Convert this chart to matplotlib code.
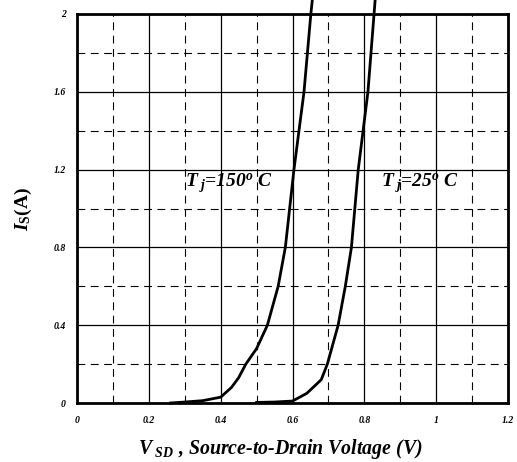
import matplotlib
matplotlib.use('Agg')
import matplotlib.pyplot as plt
from matplotlib.ticker import MultipleLocator

vsd_150 = [0.26, 0.30, 0.35, 0.40, 0.43, 0.45, 0.47, 0.50, 0.53, 0.56, 0.58, 0.604, 0.632, 0.651, 0.655]
is_150 = [0.0, 0.005, 0.012, 0.03, 0.08, 0.13, 0.20, 0.28, 0.40, 0.60, 0.80, 1.20, 1.60, 2.00, 2.07]
vsd_25 = [0.50, 0.55, 0.60, 0.64, 0.68, 0.697, 0.727, 0.747, 0.764, 0.783, 0.81, 0.827, 0.83]
is_25 = [0.003, 0.005, 0.01, 0.05, 0.12, 0.20, 0.40, 0.60, 0.80, 1.20, 1.60, 2.00, 2.07]

x_ticks = [0, 0.2, 0.4, 0.6, 0.8, 1, 1.2]
y_ticks = [0, 0.4, 0.8, 1.2, 1.6, 2]

plt.rcParams['font.family'] = 'Liberation Serif'
plt.rcParams['mathtext.fontset'] = 'custom'
plt.rcParams['mathtext.it'] = 'Liberation Serif:italic:bold'
plt.rcParams['mathtext.rm'] = 'Liberation Serif:bold'
plt.rcParams['mathtext.bf'] = 'Liberation Serif:bold'

fig = plt.figure(figsize=(5.17, 4.62), dpi=100)
ax = fig.add_axes([0.149, 0.1277, 0.8336, 0.842])

ax.set_xlim(0, 1.2)
ax.set_ylim(0, 2)
ax.set_xticks(x_ticks)
ax.set_yticks(y_ticks)
ax.set_xticklabels([str(t) for t in x_ticks])
ax.set_yticklabels([str(t) for t in y_ticks])
ax.xaxis.set_minor_locator(MultipleLocator(0.1))
ax.yaxis.set_minor_locator(MultipleLocator(0.2))

ax.grid(which='major', color='black', linestyle='-', linewidth=0.9)
ax.grid(which='minor', color='black', linestyle=(0, (7, 5)), linewidth=0.8)
ax.tick_params(which='both', length=0)
ax.tick_params(axis='x', pad=9)
ax.tick_params(axis='y', pad=8)
for lab in ax.get_xticklabels() + ax.get_yticklabels():
    lab.set_fontsize(7)
    lab.set_fontweight('bold')
    lab.set_fontstyle('italic')

for sp in ax.spines.values():
    sp.set_linewidth(2)

ax.plot(vsd_150, is_150, color='black', linewidth=2, clip_on=False)
ax.plot(vsd_25, is_25, color='black', linewidth=2, clip_on=False)

ax.text(0.30, 1.13, r'$T_{\ j}$=150$^{o}$ C', fontsize=14, fontweight='bold',
        fontstyle='italic', va='center')
ax.text(0.845, 1.13, r'$T_{\ j}$=25$^{o}$ C', fontsize=14, fontweight='bold',
        fontstyle='italic', va='center')

ax.set_xlabel(r'$V_{\ SD}$ , Source-to-Drain Voltage (V)', fontsize=14.3,
              fontweight='bold', fontstyle='italic', labelpad=9, x=0.473)
ax.set_ylabel(r'$I_{\mathrm{S}}$(A)', fontsize=14, fontweight='bold', labelpad=14)

fig.savefig('out.png', dpi=100)
